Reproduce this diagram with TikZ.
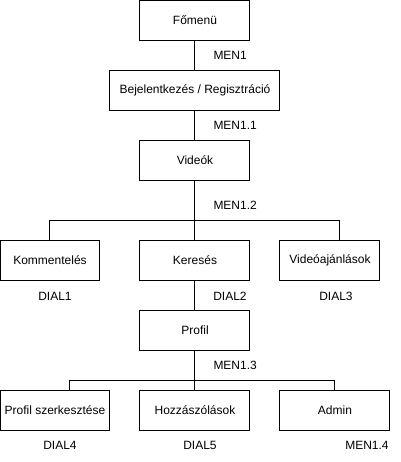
\documentclass[tikz,border=0pt]{standalone}
\usepackage{fontspec}
\setmainfont{Liberation Sans}
\tikzstyle{menu} = [rectangle, draw, fill=white, minimum width=82.5pt,
    minimum height=30pt, inner sep=0pt, text centered]
\tikzstyle{code} = [inner sep=0pt]
\tikzstyle{line} = [draw]

\begin{document}
\begin{tikzpicture}[x=0.75pt, y=-0.75pt, node distance=52.5pt,
    line width=0.75pt, font=\fontsize{9}{11}\selectfont]
  \useasboundingbox (0,0) rectangle (401,462);
  \node [menu] (fomenu) at (195,20) {Főmenü};
  \node [menu, below of=fomenu, minimum width=127.5pt] (belepes)
    {Bejelentkezés / Regisztráció};
  \node [menu, below of=belepes] (videok) {Videók};
  \node [menu, below of=videok, node distance=75pt] (kereses) {Keresés};
  \node [menu, left of=kereses, node distance=108.75pt, minimum width=75pt] (komment)
    {Kommentelés};
  \node [menu, right of=kereses, node distance=101.25pt, minimum width=75pt] (ajanlo)
    {Videóajánlások};
  \node [menu, below of=kereses] (profil) {Profil};
  \node [menu, below of=profil, node distance=60pt] (hozzaszolas) {Hozzászólások};
  \node [menu, left of=hozzaszolas, node distance=105pt] (szerkesztes)
    {Profil szerkesztése};
  \node [menu, right of=hozzaszolas, node distance=105pt] (admin) {Admin};
  \node [code, anchor=west] (men1) at (213,55) {MEN1};
  \node [code, anchor=west] (men11) at (213,125) {MEN1.1};
  \node [code, anchor=west] (men12) at (213,205) {MEN1.2};
  \node [code] (dial1) at (55,296) {DIAL1};
  \node [code] (dial2) at (230,296) {DIAL2};
  \node [code] (dial3) at (336,296) {DIAL3};
  \node [code, anchor=west] (men13) at (213,365) {MEN1.3};
  \node [code] (dial4) at (60,445) {DIAL4};
  \node [code] (dial5) at (200,445) {DIAL5};
  \node [code] (men14) at (367,445) {MEN1.4};
  \path [line] (fomenu) -- (belepes);
  \path [line] (belepes) -- (videok);
  \path [line] (videok) -- (kereses);
  \path [line] (videok.south) -- ++(0,40) -| (komment.north);
  \path [line] (videok.south) -- ++(0,40) -| ([xshift=7.5pt]ajanlo.north);
  \path [line] (kereses) -- (profil);
  \path [line] (profil) -- (hozzaszolas);
  \path [line] (profil.south) -- ++(0,30) -| ([xshift=11.25pt]szerkesztes.north);
  \path [line] (profil.south) -- ++(0,30) -| (admin.north);
\end{tikzpicture}
\end{document}
